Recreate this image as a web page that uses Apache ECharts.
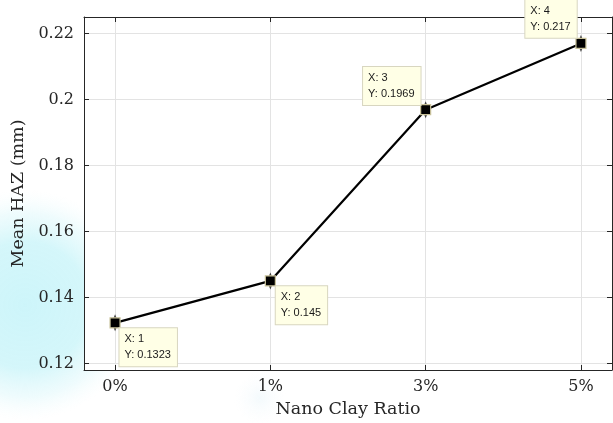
<!DOCTYPE html>
<html><head><meta charset="utf-8">
<script src="https://cdn.jsdelivr.net/npm/echarts@6/dist/echarts.min.js"></script>
<style>html,body{margin:0;padding:0;background:#fff}#c{width:613px;height:423px}</style>
</head><body><div id="c"></div>
<script>
const categories = ['0%', '1%', '3%', '5%'];
const xValues = [1, 2, 3, 4];
const yValues = [0.1323, 0.145, 0.1969, 0.217];
const yTicks = [0.12, 0.14, 0.16, 0.18, 0.2, 0.22];

const tipPos = [[10, 11], [11, 11], [-57, -37], [-50, -38]];

const chart = echarts.init(document.getElementById('c'), null, {renderer: 'canvas'});
const serif = 'DejaVu Serif';
const axisCol = '#262626';
const data = xValues.map((x, i) => ({
  value: [x, yValues[i]],
  label: {
    show: true,
    position: tipPos[i],
    align: 'left',
    verticalAlign: 'top',
    fontFamily: 'Liberation Sans, Arial, sans-serif', fontSize: 11, color: '#1a1a1a',
    backgroundColor: '#ffffe6', borderColor: '#d8d6c0', borderWidth: 1,
    padding: [3, 6, 3, 5], lineHeight: 16,
    formatter: 'X: ' + x + '\nY: ' + yValues[i]
  }
}));
chart.setOption({
  animation: false,
  backgroundColor: 'transparent',
  graphic: [{
    type: 'ellipse', z: -10, silent: true,
    shape: {cx: 25, cy: 305, rx: 115, ry: 150},
    style: {fill: new echarts.graphic.RadialGradient(0.5, 0.5, 0.5, [
      {offset: 0, color: 'rgba(205,245,250,1)'},
      {offset: 0.55, color: 'rgba(210,246,250,0.95)'},
      {offset: 0.8, color: 'rgba(222,248,251,0.5)'},
      {offset: 1, color: 'rgba(240,252,253,0)'}
    ])}
  }, {
    type: 'ellipse', z: -10, silent: true,
    shape: {cx: 260, cy: 398, rx: 190, ry: 26},
    style: {fill: new echarts.graphic.RadialGradient(0.5, 0.5, 0.5, [
      {offset: 0, color: 'rgba(232,245,250,0.5)'},
      {offset: 1, color: 'rgba(245,250,252,0)'}
    ])}
  }],
  grid: {left: 84, right: 1, top: 17, bottom: 51, show: true, backgroundColor: '#ffffff', borderWidth: 0},
  xAxis: [{
    type: 'value', min: 0.8, max: 4.2,
    position: 'bottom',
    name: 'Nano Clay Ratio', nameLocation: 'middle', nameGap: 30,
    nameTextStyle: {fontFamily: serif, fontSize: 17.5, color: '#262626'},
    axisLine: {show: true, onZero: false, lineStyle: {color: axisCol, width: 1}},
    axisTick: {show: true, inside: true, length: 5, customValues: xValues, lineStyle: {color: axisCol}},
    axisLabel: {fontFamily: serif, fontSize: 16, color: '#262626', margin: 9,
      customValues: xValues,
      formatter: v => { const i = xValues.indexOf(Math.round(v)); return i >= 0 ? categories[i] : ''; }},
    splitLine: {show: true, lineStyle: {color: '#e3e3e3', width: 1}}
  }, {
    type: 'value', min: 0.8, max: 4.2, position: 'top',
    axisLine: {show: true, onZero: false, lineStyle: {color: axisCol, width: 1}},
    axisTick: {show: true, inside: true, length: 5, customValues: xValues, lineStyle: {color: axisCol}},
    axisLabel: {show: false}, splitLine: {show: false}
  }],
  yAxis: [{
    type: 'value', min: 0.118, max: 0.225,
    position: 'left',
    name: 'Mean HAZ (mm)', nameLocation: 'middle', nameGap: 53,
    nameTextStyle: {fontFamily: serif, fontSize: 17.5, color: '#262626'},
    axisLine: {show: true, onZero: false, lineStyle: {color: axisCol, width: 1}},
    axisLabel: {fontFamily: serif, fontSize: 16, color: '#262626', margin: 10,
      customValues: yTicks, formatter: v => String(+v.toFixed(2))},
    axisTick: {show: true, inside: true, length: 5, customValues: yTicks, lineStyle: {color: axisCol}},
    splitLine: {show: true, lineStyle: {color: '#e3e3e3', width: 1}}
  }, {
    type: 'value', min: 0.118, max: 0.225, position: 'right',
    axisLine: {show: true, onZero: false, lineStyle: {color: axisCol, width: 1}},
    axisTick: {show: true, inside: true, length: 5, customValues: yTicks, lineStyle: {color: axisCol}},
    axisLabel: {show: false}, splitLine: {show: false}
  }],
  series: [{
    type: 'scatter', xAxisIndex: 0, yAxisIndex: 0,
    symbol: 'diamond', symbolSize: [7, 17],
    itemStyle: {color: '#1a1a1a'}, z: 3, silent: true,
    data: xValues.map((x, i) => [x, yValues[i]])
  }, {
    type: 'line', xAxisIndex: 0, yAxisIndex: 0, clip: false,
    symbol: 'rect', symbolSize: 10, showSymbol: true,
    lineStyle: {color: '#000', width: 2.2},
    itemStyle: {color: '#000', borderColor: '#c9c29a', borderWidth: 1.2},
    z: 4,
    data: data
  }]
});
</script></body></html>
